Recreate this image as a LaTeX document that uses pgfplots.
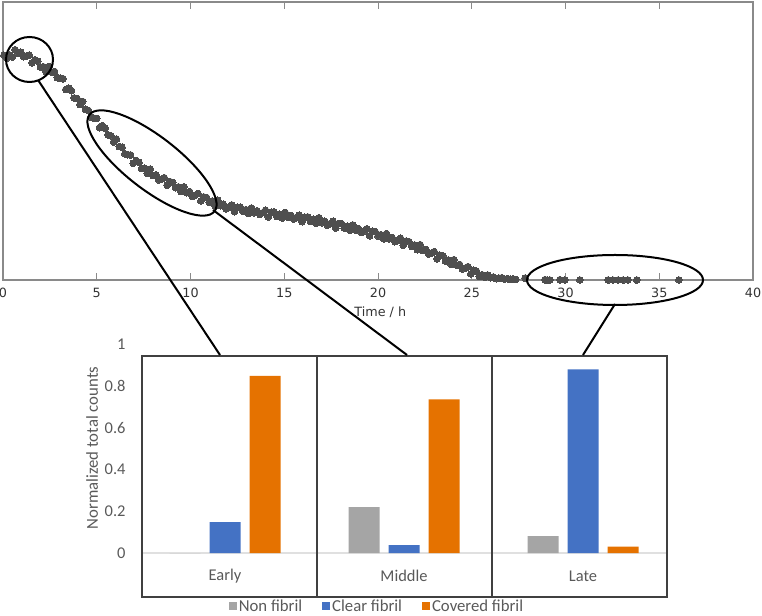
\documentclass[border=0pt]{standalone}
\usepackage{pgfplots}
\pgfplotsset{compat=1.18}
\usepackage{pgfplotstable}
\usepackage{fontspec}
\setmainfont{Carlito}
\newfontfamily\dejavu{DejaVu Sans}
\definecolor{dotgray}{HTML}{4F4F4F}
\definecolor{bgray}{HTML}{A5A5A5}
\definecolor{bblue}{HTML}{4472C4}
\definecolor{borange}{HTML}{E57200}
\definecolor{txtgray}{HTML}{595959}
\definecolor{framegray}{HTML}{8A8A8A}

\pgfplotstableread{
t v
0.05 .808
0.20 .798
0.35 .810
0.50 .802
0.65 .828
0.80 .816
0.95 .819
1.10 .803
1.25 .806
1.40 .809
1.55 .781
1.70 .792
1.85 .787
2.00 .766
2.15 .767
2.30 .750
2.45 .768
2.60 .747
2.75 .750
2.90 .728
3.05 .726
3.20 .724
3.35 .685
3.50 .690
3.65 .681
3.80 .655
3.95 .653
4.10 .631
4.25 .642
4.40 .614
4.55 .610
4.70 .586
4.85 .582
5.00 .581
5.15 .548
5.30 .555
5.45 .546
5.60 .522
5.75 .519
5.90 .496
6.05 .507
6.20 .480
6.35 .477
6.50 .454
6.65 .451
6.80 .450
6.95 .420
7.10 .430
7.25 .423
7.40 .401
7.55 .402
7.70 .383
7.85 .399
8.00 .376
8.15 .378
8.30 .360
8.45 .363
8.60 .368
8.75 .341
8.90 .354
9.05 .351
9.20 .332
9.35 .335
9.50 .318
9.65 .335
9.80 .314
9.95 .318
10.10 .301
10.25 .305
10.40 .311
10.55 .285
10.70 .299
10.85 .297
11.00 .279
11.15 .284
11.30 .268
11.45 .287
11.60 .267
11.75 .272
11.90 .256
12.05 .262
12.20 .270
12.35 .246
12.50 .262
12.65 .262
12.80 .247
12.95 .253
13.10 .239
13.25 .259
13.40 .242
13.55 .249
13.70 .236
13.85 .242
14.00 .251
14.15 .227
14.30 .244
14.45 .245
14.60 .229
14.75 .236
14.90 .223
15.05 .243
15.20 .226
15.35 .232
15.50 .219
15.65 .225
15.80 .233
15.95 .210
16.10 .226
16.25 .227
16.40 .211
16.55 .218
16.70 .204
16.85 .224
17.00 .206
17.15 .211
17.30 .197
17.45 .203
17.60 .211
17.75 .187
17.90 .203
18.05 .203
18.20 .187
18.35 .193
18.50 .179
18.65 .198
18.80 .180
18.95 .185
19.10 .171
19.25 .176
19.40 .184
19.55 .159
19.70 .175
19.85 .174
20.00 .158
20.15 .163
20.30 .148
20.45 .167
20.60 .148
20.75 .153
20.90 .138
21.05 .143
21.20 .150
21.35 .125
21.50 .140
21.65 .138
21.80 .121
21.95 .126
22.10 .109
22.25 .127
22.40 .106
22.55 .110
22.70 .093
22.85 .097
23.00 .102
23.15 .076
23.30 .089
23.45 .087
23.60 .068
23.75 .072
23.90 .056
24.05 .073
24.20 .053
24.35 .056
24.50 .040
24.65 .043
24.80 .048
24.95 .022
25.10 .035
25.25 .032
25.40 .013
25.55 .019
25.70 .010
25.85 .018
26.00 .008
26.15 .011
26.30 .005
26.45 .007
26.60 .008
26.75 .003
26.90 .005
27.05 .003
27.20 .004
27.35 .002
27.84 .007
28.90 .001
29.02 .000
29.17 .000
29.70 .001
29.97 .000
30.77 .000
32.27 .000
32.53 .000
32.80 .000
33.07 .000
33.33 .000
33.80 .000
36.05 .000
}\timedata

\begin{document}
\begin{tikzpicture}[x=1bp,y=1bp]
\useasboundingbox (0,0) rectangle (762,616);

% ---------- top time course ----------
\begin{axis}[
  at={(3bp,336bp)}, anchor=south west,
  scale only axis, width=750bp, height=278bp,
  xmin=0, xmax=40, ymin=0, ymax=1,
  xtick={0,5,...,40}, ytick=\empty,
  xtick pos=both, tick align=inside, major tick length=7bp,
  axis line style={framegray, line width=1.2bp},
  tick style={framegray, line width=0.9bp},
  clip=false,
  /pgf/number format/assume math mode=true,
  tick label style={font=\dejavu\fontsize{12.8}{14}\selectfont, text=black!80},
  xticklabel style={yshift=-5bp},
  xlabel={Time / h},
  xlabel style={at={(rel axis cs:0.503,0)}, anchor=center, yshift=-32bp,
     font=\dejavu\fontsize{12.8}{14}\selectfont, text=black!80},
]
\addplot[only marks, mark=*, mark size=3.4bp,
  mark options={fill=dotgray, draw=dotgray, line width=0pt}] table[x=t,y=v] {\timedata};
\end{axis}

% ---------- bottom bar chart ----------
\begin{axis}[
  at={(142bp,19bp)}, anchor=south west,
  scale only axis, width=525bp, height=253bp,
  xmin=142, xmax=667, ymin=-0.2105, ymax=1,
  axis line style={draw=none},
  xtick=\empty,
  ytick={0,0.2,0.4,0.6,0.8,1},
  yticklabels={0,0.2,0.4,0.6,0.8,1},
  major tick length=0pt,
  clip=false,
  yticklabel style={font=\fontsize{16.5}{19}\selectfont, text=txtgray, xshift=-13bp},
  ylabel={Normalized total counts},
  ylabel style={at={(rel axis cs:-0.0952,0.589)}, anchor=center,
     font=\fontsize{16.8}{19}\selectfont, text=txtgray},
  legend columns=3,
  legend style={at={(rel axis cs:0.4476,-0.036)}, anchor=center, draw=none,
     fill=none, font=\fontsize{16.8}{19}\selectfont, text=txtgray,
     /tikz/every even column/.append style={column sep=18bp},
     inner sep=0pt, outer sep=0pt},
  legend image code/.code={\fill[#1] (0bp,-4bp) rectangle (8bp,4bp);},
]
\draw[black!12, line width=1.2bp] (axis cs:142,0) -- (axis cs:667,0);
\addplot[ybar, bar width=31bp, bar shift=-40bp, fill=bgray, draw=none]
  coordinates {(225,0) (404,0.219) (583,0.081)};
\addlegendentry{Non fibril}
\addplot[ybar, bar width=31bp, bar shift=0bp, fill=bblue, draw=none]
  coordinates {(225,0.148) (404,0.038) (583,0.879)};
\addlegendentry{Clear fibril}
\addplot[ybar, bar width=31bp, bar shift=40bp, fill=borange, draw=none]
  coordinates {(225,0.847) (404,0.735) (583,0.030)};
\addlegendentry{Covered fibril}
\draw[black!75, line width=1.3bp] (axis cs:142,-0.2105) rectangle (axis cs:667,0.943);
\draw[black!75, line width=1.3bp] (axis cs:317,-0.2105) -- (axis cs:317,0.943);
\draw[black!75, line width=1.3bp] (axis cs:492,-0.2105) -- (axis cs:492,0.943);
\node[text=txtgray, font=\fontsize{16.5}{19}\selectfont] at (axis cs:225,-0.11) {Early};
\node[text=txtgray, font=\fontsize{16.5}{19}\selectfont] at (axis cs:404,-0.11) {Middle};
\node[text=txtgray, font=\fontsize{16.5}{19}\selectfont] at (axis cs:583,-0.11) {Late};
\end{axis}

% ---------- zoom annotations ----------
\begin{scope}[line width=2bp, black]
\draw (29.5,556.5) ellipse [x radius=23.5, y radius=22.5];
\draw[rotate around={-37.7:(152,453)}] (152,453) ellipse [x radius=79, y radius=26.5];
\draw (615,336) ellipse [x radius=88, y radius=25];
\draw (38,536) -- (220,261);
\draw (213,406) -- (407,261);
\draw (615,312) -- (583,261);
\end{scope}
\end{tikzpicture}
\end{document}
